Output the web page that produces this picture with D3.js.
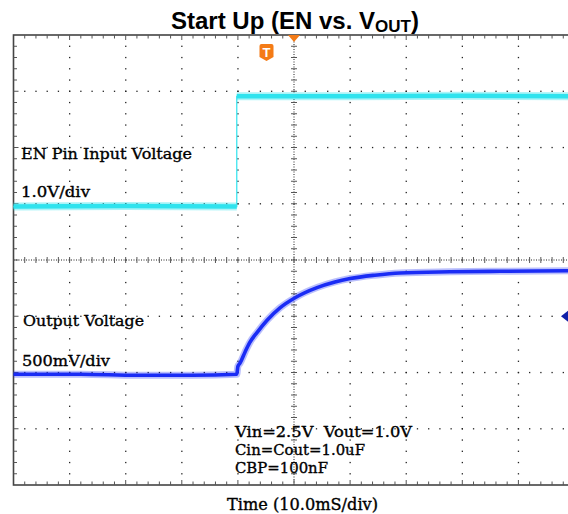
<!DOCTYPE html>
<html>
<head>
<meta charset="utf-8">
<script src="https://d3js.org/d3.v7.min.js"></script>
<style>
  body { margin: 0; background: #fff; }
  svg { display: block; }
  text { white-space: pre; }
</style>
</head>
<body>
<svg id="scope"></svg>
<script>
// time in ms from left edge of screen (10 ms/div, 10 div)
const enTime = [0, 20, 39.8, 39.8, 60, 80, 100];
const enVolts = [0, 0.01, 0, 1.96, 1.96, 1.97, 1.96];   // 1.0 V/div

const voutTime = [0, 12, 22, 32, 39.8, 40.0, 40.4, 41.3, 42.1, 43.4, 45.2, 47.5, 50.2, 54.1, 57.3, 60.0, 64.4, 68.9, 77.8, 86.8, 100];
const voutVolts = [0, 0.0, -0.01, -0.01, 0, 0.07, 0.10, 0.20, 0.28, 0.37, 0.48, 0.59, 0.68, 0.77, 0.82, 0.85, 0.88, 0.90, 0.91, 0.915, 0.92]; // 0.5 V/div

const titleText = "Start Up (EN vs. V";
const titleSub = "OUT";
const enLabels = ["EN Pin Input Voltage", "1.0V/div"];
const outLabels = ["Output Voltage", "500mV/div"];
const condLabels = ["Vin=2.5V  Vout=1.0V", "Cin=Cout=1.0uF", "CBP=100nF"];
const timeLabel = "Time (10.0mS/div)";

const W = 568, H = 514;
const svg = d3.select('#scope').attr('width', W).attr('height', H);

// screen geometry: 10 x 8 divisions
const x = d3.scaleLinear().domain([0, 100]).range([13.5, 574.5]);
const yDiv = d3.scaleLinear().domain([0, 8]).range([485, 35]);
const EN_ZERO = 4.95, EN_VPD = 1.0;
const OUT_ZERO = 1.97, OUT_VPD = 0.5;
const yEN = v => yDiv(EN_ZERO + v / EN_VPD);
const yOUT = v => yDiv(OUT_ZERO + v / OUT_VPD);

const grid = svg.append('g');
const ink = '#222';

// dotted major grid lines (dots every 1/5 div)
for (let i = 1; i < 10; i++) {
  if (i === 5) continue;
  for (let k = 1; k < 40; k++) {
    grid.append('rect').attr('x', x(i * 10) - 0.6).attr('y', yDiv(k / 5) - 0.6)
      .attr('width', 1.3).attr('height', 1.3).attr('fill', ink);
  }
}
for (let j = 1; j < 8; j++) {
  if (j === 4) continue;
  for (let k = 1; k < 50; k++) {
    grid.append('rect').attr('x', x(k * 2) - 0.6).attr('y', yDiv(j) - 0.6)
      .attr('width', 1.3).attr('height', 1.3).attr('fill', ink);
  }
}

// centre cross lines with small ticks
grid.append('line').attr('x1', x(50)).attr('x2', x(50)).attr('y1', yDiv(0)).attr('y2', yDiv(8))
  .attr('stroke', ink).attr('stroke-width', 1).attr('stroke-dasharray', '1,1.5');
grid.append('line').attr('x1', x(0)).attr('x2', x(100)).attr('y1', yDiv(4)).attr('y2', yDiv(4))
  .attr('stroke', ink).attr('stroke-width', 1).attr('stroke-dasharray', '1,1.5');
for (let k = 1; k < 40; k++) {
  grid.append('line').attr('x1', x(50) - 3).attr('x2', x(50) + 3)
    .attr('y1', yDiv(k / 5)).attr('y2', yDiv(k / 5)).attr('stroke', '#555').attr('stroke-width', 1);
}
for (let k = 1; k < 50; k++) {
  grid.append('line').attr('x1', x(k * 2)).attr('x2', x(k * 2))
    .attr('y1', yDiv(4) - 3).attr('y2', yDiv(4) + 3).attr('stroke', '#555').attr('stroke-width', 1);
}

// frame with ticks
grid.append('rect').attr('x', x(0)).attr('y', yDiv(8))
  .attr('width', x(100) - x(0)).attr('height', yDiv(0) - yDiv(8))
  .attr('fill', 'none').attr('stroke', '#444').attr('stroke-width', 1.6);
for (let k = 1; k < 50; k++) {
  const len = k % 5 === 0 ? 5 : 3.5;
  grid.append('line').attr('x1', x(k * 2)).attr('x2', x(k * 2))
    .attr('y1', yDiv(8)).attr('y2', yDiv(8) + len).attr('stroke', '#555');
  grid.append('line').attr('x1', x(k * 2)).attr('x2', x(k * 2))
    .attr('y1', yDiv(0)).attr('y2', yDiv(0) - len).attr('stroke', '#555');
}
for (let k = 1; k < 40; k++) {
  const len = k % 5 === 0 ? 5 : 3.5;
  grid.append('line').attr('x1', x(0)).attr('x2', x(0) + len)
    .attr('y1', yDiv(k / 5)).attr('y2', yDiv(k / 5)).attr('stroke', '#555');
}

// traces
const cyan = '#2fe3ee', blue = '#1a2cf5';
const enPts = enTime.map((t, i) => [x(t), yEN(enVolts[i])]);
// thin rising edge, thick noisy band on the flat parts
svg.append('path').attr('d', d3.line()(enPts)).attr('fill', 'none')
  .attr('stroke', cyan).attr('stroke-width', 1.2);
[enPts.slice(0, 3), enPts.slice(3)].forEach(seg => {
  const path = d3.line()(seg);
  svg.append('path').attr('d', path).attr('fill', 'none')
    .attr('stroke', cyan).attr('stroke-opacity', 0.4).attr('stroke-width', 8);
  svg.append('path').attr('d', path).attr('fill', 'none')
    .attr('stroke', cyan).attr('stroke-width', 4.5);
});

const outLine = d3.line().curve(d3.curveMonotoneX)
  .x((d, i) => x(voutTime[i])).y((d, i) => yOUT(voutVolts[i]));
svg.append('path').attr('d', outLine(voutTime)).attr('fill', 'none')
  .attr('stroke', blue).attr('stroke-opacity', 0.3).attr('stroke-width', 7);
svg.append('path').attr('d', outLine(voutTime)).attr('fill', 'none')
  .attr('stroke', blue).attr('stroke-width', 3.6);

// markers
const orange = '#f47b16';
svg.append('path')
  .attr('d', `M${x(50) - 6},${yDiv(8)} L${x(50) + 6},${yDiv(8)} L${x(50)},${yDiv(8) + 7} Z`)
  .attr('fill', orange);
const tx = 266.5, ty = 44;
svg.append('path')
  .attr('d', `M${tx - 7},${ty + 2} Q${tx - 7},${ty} ${tx - 5},${ty} L${tx + 5},${ty} Q${tx + 7},${ty} ${tx + 7},${ty + 2} L${tx + 7},${ty + 13} L${tx},${ty + 17} L${tx - 7},${ty + 13} Z`)
  .attr('fill', orange);
svg.append('text').attr('x', tx).attr('y', ty + 13).attr('text-anchor', 'middle')
  .attr('font-family', 'Liberation Sans, Arial, sans-serif').attr('font-weight', 'bold')
  .attr('font-size', 13).attr('fill', '#fff').text('T');
svg.append('path')
  .attr('d', `M561,${yDiv(3)} L570,${yDiv(3) - 7} L570,${yDiv(3) + 7} Z`)
  .attr('fill', '#1020a8');

// title
const title = svg.append('text').attr('x', 171).attr('y', 29)
  .attr('font-family', 'Liberation Sans, Arial, sans-serif').attr('font-weight', 'bold')
  .attr('font-size', 24).attr('fill', '#000');
title.append('tspan').text(titleText);
title.append('tspan').attr('font-size', 17).attr('dy', 3).text(titleSub);
title.append('tspan').attr('dy', -3).text(')');

// serif labels
const serif = 'DejaVu Serif, Liberation Serif, serif';
function label(t, lx, ly, len, size) {
  svg.append('text').attr('x', lx).attr('y', ly).attr('font-family', serif)
    .attr('font-size', size).attr('fill', '#000')
    .attr('stroke', '#000').attr('stroke-width', 0.35)
    .attr('textLength', len).attr('lengthAdjust', 'spacingAndGlyphs').text(t);
}
label(enLabels[0], 21, 159, 171, 15);
label(enLabels[1], 21, 197, 69, 15);
label(outLabels[0], 23, 326, 121, 15);
label(outLabels[1], 22, 366, 88, 15);
const condLens = [177, 130, 93];
condLabels.forEach((t, i) => label(t, 235, 437 + i * 18, condLens[i], 15));
label(timeLabel, 227, 510, 151, 16);
</script>
</body>
</html>
